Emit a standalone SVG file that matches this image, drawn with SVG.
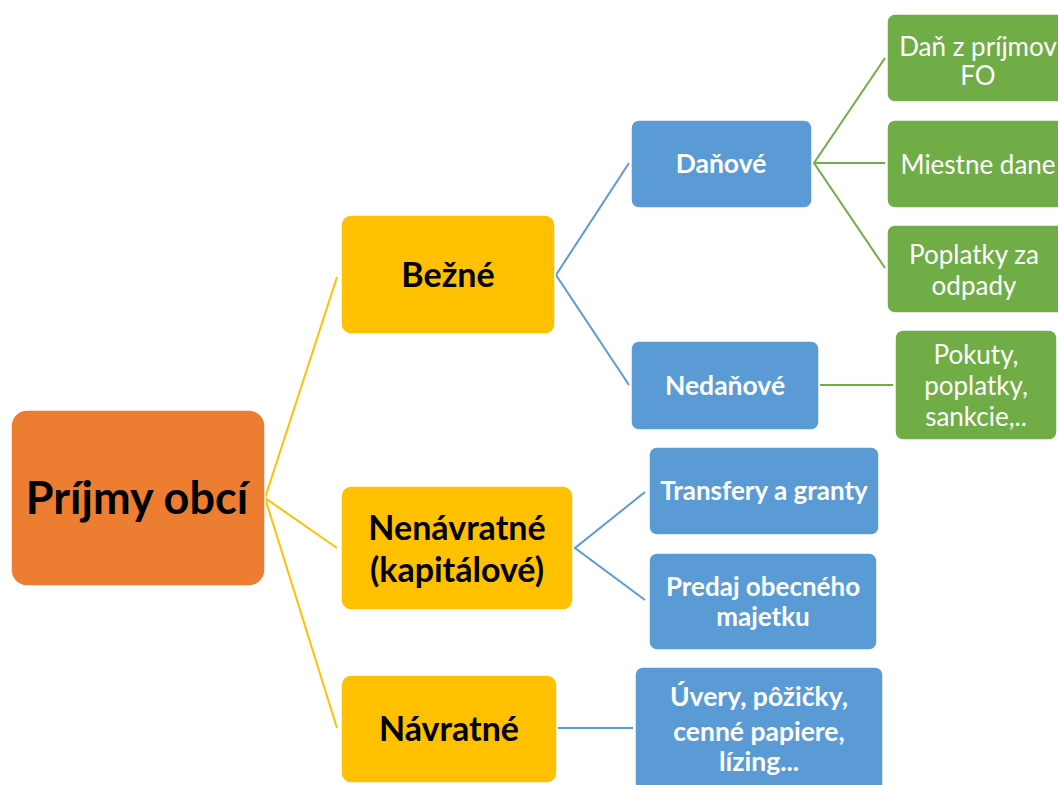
<svg xmlns="http://www.w3.org/2000/svg" width="1058" height="785" viewBox="0 0 1058 785">
<style>
.box{stroke:#ffffff;stroke-width:1.5}
.o{fill:#ED7D31}.y{fill:#FFC000}.b{fill:#5B9BD5}.g{fill:#70AD47}
text{font-family:Lato,"Liberation Sans",sans-serif;text-anchor:middle}
.tk{fill:#000;font-weight:bold}
.tw{fill:#fff;font-weight:bold}
.tg{fill:#fff}
.cy{stroke:#FFC000;stroke-width:2;fill:none}
.cb{stroke:#5B9BD5;stroke-width:2;fill:none}
.cg{stroke:#70AD47;stroke-width:2;fill:none}
</style>
<rect width="1058" height="785" fill="#fff"/>
<g id="connectors">
<polyline class="cy" points="337,277 265,498 337,548"/>
<line class="cy" x1="265" y1="498" x2="337" y2="728"/>
<polyline class="cb" points="629,163 556,275 629,385"/>
<polyline class="cg" points="885,58 814,163 885,268"/>
<line class="cg" x1="814" y1="163" x2="885" y2="163"/>
<line class="cg" x1="820" y1="385" x2="893" y2="385"/>
<polyline class="cb" points="645,492 575,548 645,600"/>
<line class="cb" x1="557" y1="728" x2="633" y2="728"/>
</g>
<g id="root"><rect class="box o" x="11" y="410" width="254" height="176" rx="16"/><text class="tk" x="137" y="514" font-size="45">Príjmy obcí</text></g>
<g id="bezne"><rect class="box y" x="341" y="215" width="214" height="119" rx="10"/><text class="tk" x="448" y="287" font-size="34">Bežné</text></g>
<g id="nenavratne"><rect class="box y" x="341" y="486" width="232" height="124" rx="10"/><text class="tk" font-size="34"><tspan x="457" y="540">Nenávratné</tspan><tspan x="457" y="582">(kapitálové)</tspan></text></g>
<g id="navratne"><rect class="box y" x="341" y="675" width="216" height="108" rx="10"/><text class="tk" x="449" y="741" font-size="34">Návratné</text></g>
<g id="danove"><rect class="box b" x="631" y="120" width="181" height="88" rx="8"/><text class="tw" x="721" y="173" font-size="26.5">Daňové</text></g>
<g id="nedanove"><rect class="box b" x="631" y="341" width="188" height="89" rx="8"/><text class="tw" x="725" y="395" font-size="26.5">Nedaňové</text></g>
<g id="dan-fo"><rect class="box g" x="887" y="14" width="180" height="88" rx="8"/><text class="tg" font-size="26"><tspan x="978" y="56">Daň z príjmov</tspan><tspan x="978" y="85">FO</tspan></text></g>
<g id="miestne"><rect class="box g" x="887" y="120" width="180" height="88" rx="8"/><text class="tg" x="978" y="174" font-size="26">Miestne dane</text></g>
<g id="poplatky"><rect class="box g" x="887" y="225" width="180" height="88" rx="8"/><text class="tg" font-size="26"><tspan x="974" y="264">Poplatky za</tspan><tspan x="974" y="295">odpady</tspan></text></g>
<g id="pokuty"><rect class="box g" x="895" y="330" width="162" height="110" rx="8"/><text class="tg" font-size="26"><tspan x="976" y="364">Pokuty,</tspan><tspan x="976" y="395">poplatky,</tspan><tspan x="976" y="426">sankcie,..</tspan></text></g>
<g id="transfery"><rect class="box b" x="649" y="447" width="230" height="88" rx="8"/><text class="tw" x="764" y="500" font-size="26">Transfery a granty</text></g>
<g id="predaj"><rect class="box b" x="649" y="553" width="228" height="97" rx="8"/><text class="tw" font-size="26"><tspan x="763" y="596">Predaj obecného</tspan><tspan x="763" y="626">majetku</tspan></text></g>
<g id="uvery"><rect class="box b" x="635" y="667" width="248" height="125" rx="8"/><text class="tw" font-size="26.5"><tspan x="759" y="706">Úvery, pôžičky,</tspan><tspan x="759" y="741">cenné papiere,</tspan><tspan x="759" y="771">lízing...</tspan></text></g>
</svg>
